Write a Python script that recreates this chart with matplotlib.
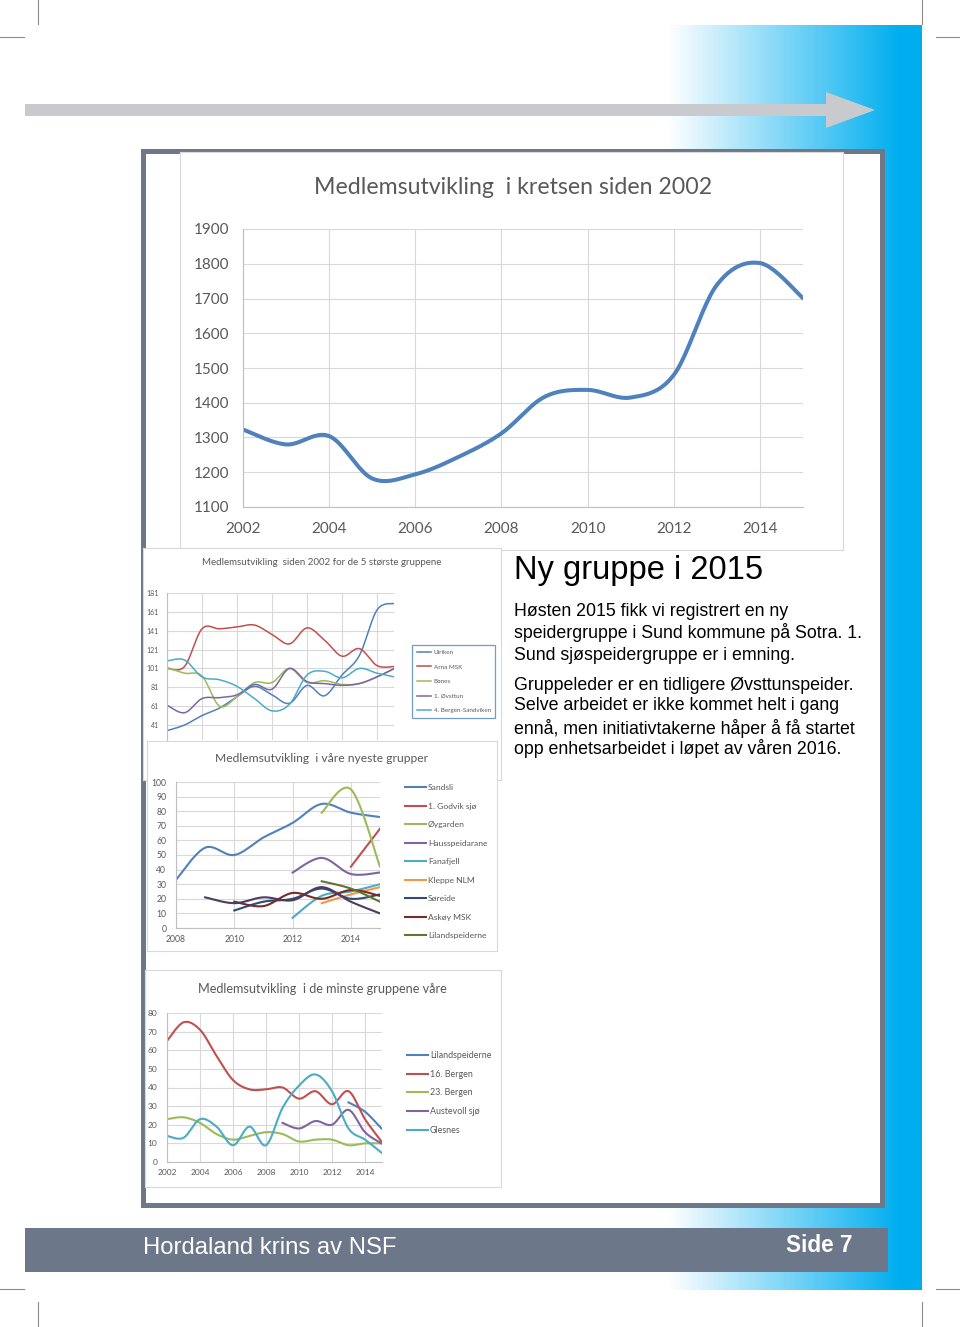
import numpy as np
import matplotlib
matplotlib.use("Agg")
import matplotlib.pyplot as plt
from matplotlib.patches import Rectangle, Polygon

plt.rcParams['font.family'] = ['Lato', 'DejaVu Sans']

# ---------------- data ----------------
years_all = list(range(2002, 2016))

# Chart 1: total members
total_members = [1323, 1280, 1304, 1182, 1194, 1244, 1312, 1417, 1437, 1415, 1480, 1739, 1802, 1701]

# Chart 2: five largest groups (2002-2015)
big_names = ["Ulriken", "Arna MSK", "Bønes", "1. Øvsttun", "4. Bergen-Sandviken"]
ulriken = [35, 41, 51, 59, 71, 82, 73, 64, 83, 72, 94, 115, 163, 170]
arna = [101, 103, 143, 143, 145, 147, 137, 127, 144, 131, 114, 122, 104, 103]
bones = [102, 96, 93, 61, 71, 86, 86, 101, 86, 88, 84, 85, 92, 101]
ovsttun = [62, 54, 69, 70, 73, 84, 79, 101, 87, 85, 83, 85, 92, 101]
sandviken = [109, 110, 92, 89, 82, 69, 56, 63, 94, 98, 91, 101, 96, 92]

# Chart 3: newest groups (2008-2015), None = no data
years_new = list(range(2008, 2016))
new_names = ["Sandsli", "1. Godvik sjø", "Øygarden", "Hausspeidarane", "Fanafjell",
             "Kleppe NLM", "Søreide", "Askøy MSK", "Lilandspeiderne", "Austevoll sjø"]
sandsli = [33, 55, 50, 62, 72, 85, 79, 76]
godvik = [None, None, None, None, None, None, 42, 68]
oygarden = [None, None, None, None, None, 79, 95, 42]
hauss = [None, None, None, None, 38, 48, 37, 38]
fanafjell = [None, None, None, None, 7, 22, 25, 30]
kleppe = [None, None, None, None, None, 17, 23, 28]
soreide = [None, None, 12, 18, 20, 27, 20, 23]
askoy = [None, None, 18, 15, 24, 20, 26, 22]
liland_new = [None, None, None, None, None, 32, 27, 18]
austevoll_new = [None, 21, 17, 21, 19, 28, 18, 10]

# Chart 4: smallest groups (2002-2015)
small_names = ["Lilandspeiderne", "16. Bergen", "23. Bergen", "Austevoll sjø", "Glesnes"]
liland = [None] * 11 + [32, 27, 18]
bergen16 = [65, 75, 71, 57, 44, 39, 39, 40, 34, 38, 31, 38, 23, 11]
bergen23 = [23, 24, 21, 15, 12, 14, 16, 15, 11, 12, 12, 9, 10, 10]
austevoll = [None] * 7 + [21, 18, 22, 20, 28, 16, 10]
glesnes = [14, 13, 23, 19, 9, 19, 9, 29, 41, 47, 38, 18, 12, 5]

# ---------------- helpers ----------------
W, H = 960, 1327
GRID = '#D9D9D9'
AXIS = '#BFBFBF'
TXT = '#595959'
C_BLUE, C_RED, C_GREEN, C_PURPLE, C_CYAN, C_ORANGE = '#4F81BD', '#C0504D', '#9BBB59', '#8064A2', '#4BACC6', '#F79646'
C_NAVY, C_DRED, C_DGREEN, C_DPURPLE = '#2C4D75', '#772C2A', '#5F7530', '#4D3B62'


def box(x0, y0, x1, y1):
    return [x0 / W, 1 - y1 / H, (x1 - x0) / W, (y1 - y0) / H]


def P(x, y):
    return x / W, 1 - y / H


def smooth(xs, ys, n=24):
    """Excel-like smoothed line (cardinal Bezier) through the given points."""
    pts = [(x, y) for x, y in zip(xs, ys) if y is not None]
    pts = np.array(pts, dtype=float)
    if len(pts) < 2:
        return pts[:, 0], pts[:, 1]
    out = [pts[0]]
    t = np.linspace(0, 1, n)[1:, None]
    for i in range(len(pts) - 1):
        p0 = pts[i - 1] if i > 0 else pts[i]
        p1, p2 = pts[i], pts[i + 1]
        p3 = pts[i + 2] if i + 2 < len(pts) else pts[i + 1]
        c1 = p1 + (p2 - p0) / 6.0
        c2 = p2 - (p3 - p1) / 6.0
        seg = ((1 - t) ** 3) * p1 + 3 * ((1 - t) ** 2) * t * c1 + 3 * (1 - t) * t ** 2 * c2 + t ** 3 * p2
        out.extend(seg)
    out = np.array(out)
    return out[:, 0], out[:, 1]


def style_axes(ax, ysize, xsize, ypad, xpad):
    ax.set_facecolor('none')
    for s in ['top', 'right']:
        ax.spines[s].set_visible(False)
    for s in ['left', 'bottom']:
        ax.spines[s].set_color(AXIS)
        ax.spines[s].set_linewidth(0.8)
    ax.grid(True, color=GRID, lw=0.8)
    ax.set_axisbelow(True)
    ax.tick_params(axis='y', length=0, labelsize=ysize, labelcolor=TXT, pad=ypad)
    ax.tick_params(axis='x', length=0, labelsize=xsize, labelcolor=TXT, pad=xpad)


def panel(x0, y0, x1, y1):
    ax = fig.add_axes(box(x0, y0, x1, y1))
    ax.set_xticks([])
    ax.set_yticks([])
    ax.set_facecolor('white')
    for s in ax.spines.values():
        s.set_color('#D9D9D9')
        s.set_linewidth(0.8)
    return ax


fig = plt.figure(figsize=(9.6, 13.27), dpi=100)

# ---------------- page decoration ----------------
bg = fig.add_axes([0, 0, 1, 1])
xs = np.arange(665, 923)
tg = np.clip((xs - 668) / (900 - 668), 0, 1)
blue = np.array([0, 174, 239]) / 255.0
img = (1 - tg)[:, None] * np.ones(3) + tg[:, None] * blue
bg.imshow(img[None, :, :], extent=[665, 922, 1290, 25], aspect='auto', interpolation='bilinear', zorder=0)
bg.add_patch(Polygon([(25, 104), (826, 104), (826, 92), (875, 110), (826, 128), (826, 116), (25, 116)],
                     closed=True, facecolor='#C9CACE', edgecolor='none', zorder=1))
bg.add_patch(Rectangle((142.5, 150.5), 739, 1054, facecolor='white', edgecolor='#6E7889', lw=3.6, zorder=2))
bg.add_patch(Rectangle((25, 1228), 863, 44, facecolor='#6C778A', edgecolor='none', zorder=2))
for (xa, ya, xb, yb) in [(38, 0, 38, 24), (0, 37, 24, 37), (922, 0, 922, 24), (936, 37, 960, 37),
                         (0, 1289, 24, 1289), (936, 1289, 960, 1289), (38, 1302, 38, 1327), (922, 1302, 922, 1327)]:
    bg.plot([xa, xb], [ya, yb], color='#8C8C8C', lw=0.8, zorder=3)
bg.set_xlim(0, W)
bg.set_ylim(H, 0)
bg.axis('off')

# ---------------- chart 1 ----------------
panel(180, 152, 843, 550)
ax1 = fig.add_axes(box(243, 229, 803, 507))
sx, sy = smooth(years_all, total_members)
ax1.plot(sx, sy, color=C_BLUE, lw=2.9, solid_capstyle='round')
ax1.set_xlim(2002, 2015)
ax1.set_ylim(1100, 1900)
ax1.set_yticks(range(1100, 1901, 100))
ax1.set_xticks(range(2002, 2015, 2))
style_axes(ax1, 11, 11, 10, 11)
fig.text(*P(513, 187), "Medlemsutvikling  i kretsen siden 2002", ha='center', va='center', fontsize=16.7, color=TXT)

# ---------------- chart 2 ----------------
panel(143, 548, 501, 780)
ax2 = fig.add_axes(box(167, 593, 394.5, 740))
big_series = [ulriken, arna, bones, ovsttun, sandviken]
big_colors = [C_BLUE, C_RED, C_GREEN, C_PURPLE, C_CYAN]
for name, vals, col in zip(big_names, big_series, big_colors):
    sx, sy = smooth(years_all, vals)
    ax2.plot(sx, sy, color=col, lw=1.1, label=name)
ax2.set_xlim(2002, 2015)
ax2.set_ylim(25.1, 181)
ax2.set_yticks(range(41, 182, 20))
ax2.set_xticks(range(2002, 2015, 2))
style_axes(ax2, 5, 5, 6, 4)
ax2.spines['bottom'].set_visible(False)
ax2.tick_params(axis='x', labelbottom=False)
leg2 = ax2.legend(loc='upper left', bbox_to_anchor=P(412, 645), bbox_transform=fig.transFigure,
                  fontsize=4.5, frameon=True, fancybox=False, borderpad=0.75, labelspacing=1.47,
                  handlelength=2.3, handletextpad=0.4, borderaxespad=0)
leg2.get_frame().set_edgecolor(C_BLUE)
leg2.get_frame().set_linewidth(0.9)
for t in leg2.get_texts():
    t.set_color(TXT)
fig.text(*P(322, 562), "Medlemsutvikling  siden 2002 for de 5 største gruppene", ha='center', va='center',
         fontsize=7.0, color=TXT)

# ---------------- chart 3 ----------------
panel(147, 741, 497, 951)
ax3 = fig.add_axes(box(176, 782, 380, 928))
new_series = [sandsli, godvik, oygarden, hauss, fanafjell, kleppe, soreide, askoy, liland_new, austevoll_new]
new_colors = [C_BLUE, C_RED, C_GREEN, C_PURPLE, C_CYAN, C_ORANGE, C_NAVY, C_DRED, C_DGREEN, C_DPURPLE]
handles3 = []
for name, vals, col in zip(new_names, new_series, new_colors):
    sx, sy = smooth(years_new, vals)
    ln, = ax3.plot(sx, sy, color=col, lw=1.5, label=name)
    handles3.append(ln)
ax3.set_xlim(2008, 2015)
ax3.set_ylim(0, 100)
ax3.set_yticks(range(0, 101, 10))
ax3.set_xticks(range(2008, 2015, 2))
style_axes(ax3, 6.2, 6.2, 7, 5)
leg3 = ax3.legend(handles=handles3[:9], loc='upper left', bbox_to_anchor=P(405, 784),
                  bbox_transform=fig.transFigure, fontsize=6.1, frameon=False, borderpad=0,
                  labelspacing=1.36, handlelength=2.5, handletextpad=0.2, borderaxespad=0)
for t in leg3.get_texts():
    t.set_color(TXT)
fig.text(*P(322, 759), "Medlemsutvikling  i våre nyeste grupper", ha='center', va='center',
         fontsize=8.7, color=TXT)

# ---------------- chart 4 ----------------
panel(145, 970, 501, 1187)
ax4 = fig.add_axes(box(167, 1013, 381.5, 1162))
small_series = [liland, bergen16, bergen23, austevoll, glesnes]
small_colors = [C_BLUE, C_RED, C_GREEN, C_PURPLE, C_CYAN]
for name, vals, col in zip(small_names, small_series, small_colors):
    sx, sy = smooth(years_all, vals)
    ax4.plot(sx, sy, color=col, lw=1.5, label=name)
ax4.set_xlim(2002, 2015)
ax4.set_ylim(0, 80)
ax4.set_yticks(range(0, 81, 10))
ax4.set_xticks(range(2002, 2015, 2))
style_axes(ax4, 6, 6, 7, 5)
leg4 = ax4.legend(loc='upper left', bbox_to_anchor=P(407, 1051), bbox_transform=fig.transFigure,
                  fontsize=6.4, frameon=False, borderpad=0, labelspacing=1.09, handlelength=2.4,
                  handletextpad=0.2, borderaxespad=0)
for t in leg4.get_texts():
    t.set_color(TXT)
fig.text(*P(322, 989), "Medlemsutvikling  i de minste gruppene våre", ha='center', va='center',
         fontsize=9.1, color=TXT)

# ---------------- text block ----------------
SANS = ['Liberation Sans', 'DejaVu Sans']
fig.text(*P(514, 571), "Ny gruppe i 2015", ha='left', va='center', fontsize=23.5, color='black', family=SANS)
body = [
    ("Høsten 2015 fikk vi registrert en ny", 612),
    ("speidergruppe i Sund kommune på Sotra. 1.", 633),
    ("Sund sjøspeidergruppe er i emning.", 655),
    ("Gruppeleder er en tidligere Øvsttunspeider.", 685),
    ("Selve arbeidet er ikke kommet helt i gang", 706),
    ("ennå, men initiativtakerne håper å få startet", 728),
    ("opp enhetsarbeidet i løpet av våren 2016.", 749),
]
for line, yy in body:
    fig.text(*P(514, yy), line, ha='left', va='center', fontsize=12.8, color='black', family=SANS)

# ---------------- footer ----------------
fig.text(*P(143, 1248), "Hordaland krins av NSF", ha='left', va='center', fontsize=17.2, color='white',
         family=SANS)
fig.text(*P(852, 1245), "Side 7", ha='right', va='center', fontsize=16.3, color='white', fontweight='bold',
         family=SANS)

fig.savefig("out.png", dpi=100)
